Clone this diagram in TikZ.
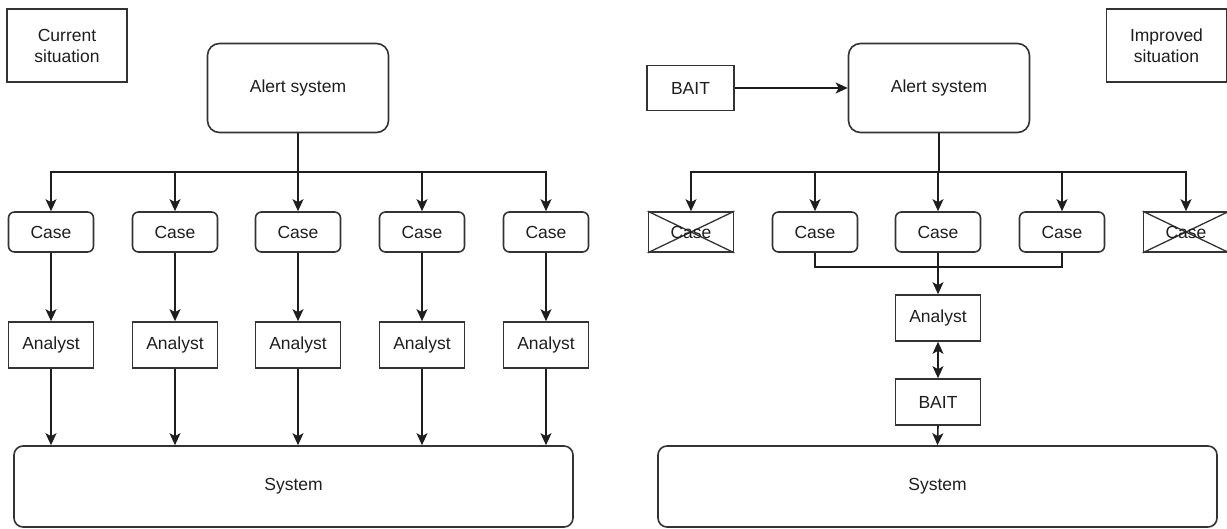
\documentclass[tikz,border=0pt]{standalone}
\usepackage{fontspec}
\setmainfont{Liberation Sans}
\usetikzlibrary{arrows.meta}
\definecolor{ink}{HTML}{1E1E1E}
\definecolor{edge}{HTML}{333333}
\begin{document}
\begin{tikzpicture}[x=1pt,y=-1pt,
  every node/.style={font=\fontsize{17.5}{21}\selectfont, text=ink, inner sep=0pt},
  box/.style={draw=edge, line width=1.6pt},
  label/.style={box, align=center, minimum width=120pt, minimum height=73pt},
  alertbox/.style={box, rounded corners=12pt, minimum width=181pt, minimum height=89pt},
  casebox/.style={box, rounded corners=6pt, minimum width=85pt, minimum height=40pt},
  crossbox/.style={box, minimum width=85pt, minimum height=40pt},
  agent/.style={box, minimum width=85pt, minimum height=46pt},
  sysbox/.style={box, rounded corners=9pt, minimum width=559pt, minimum height=81pt},
  wire/.style={draw=ink, line width=1.6pt},
  tip/.tip={Stealth[length=12pt,width=11pt,inset=3pt]},
  flow/.style={wire, -tip},
  twoway/.style={wire, tip-tip}
]
\useasboundingbox (0,0) rectangle (1227,529);

% ---------- current situation ----------
\node[label] (cur) at (67,45.5) {Current\\situation};
\node[alertbox] (alertL) at (298,88) {Alert system};
\coordinate (busL) at (298,172);

\foreach \i/\x in {1/51,2/175,3/298,4/422,5/546}{
  \node[casebox] (caseL\i) at (\x,232) {Case};
  \node[agent] (anL\i) at (\x,345) {Analyst};
}
\node[sysbox] (sysL) at (293.5,486.5) {System};

\draw[wire] (alertL.south) -- (busL);
\foreach \i in {1,...,5}{
  \draw[flow] (busL) -| (caseL\i.north);
  \draw[flow] (caseL\i.south) -- (anL\i.north);
  \draw[flow] (anL\i.south) -- (anL\i.south |- sysL.north);
}

% ---------- improved situation ----------
\node[label] (imp) at (1166.5,45.5) {Improved\\situation};
\node[box, minimum width=87pt, minimum height=45pt] (baitIn) at (690.5,88) {BAIT};
\node[alertbox] (alertR) at (939,88) {Alert system};
\coordinate (busR) at (939,172);

\node[crossbox] (caseR1) at (691,232) {};
\node[casebox] (caseR2) at (815,232) {Case};
\node[casebox] (caseR3) at (938,232) {Case};
\node[casebox] (caseR4) at (1062,232) {Case};
\node[crossbox] (caseR5) at (1186,232) {};
\foreach \i in {1,5}{
  \draw[draw=edge, line width=1.3pt] (caseR\i.north west) -- (caseR\i.south east)
                                      (caseR\i.south west) -- (caseR\i.north east);
  \node at (caseR\i) {Case};
}

\node[agent] (anR) at (938,318) {Analyst};
\node[agent] (baitR) at (938,402) {BAIT};
\node[sysbox] (sysR) at (937.5,486.5) {System};
\coordinate (mergeR) at (938,267);

\draw[flow] (baitIn.east) -- (alertR.west);
\draw[wire] (alertR.south) -- (busR);
\foreach \i in {1,...,5}{
  \draw[flow] (busR) -| (caseR\i.north);
}
\draw[wire] (caseR2.south) |- (mergeR) -| (caseR4.south);
\draw[flow] (caseR3.south) -- (anR.north);
\draw[twoway] (anR.south) -- (baitR.north);
\draw[flow] (baitR.south) -- (sysR.north);
\end{tikzpicture}
\end{document}
